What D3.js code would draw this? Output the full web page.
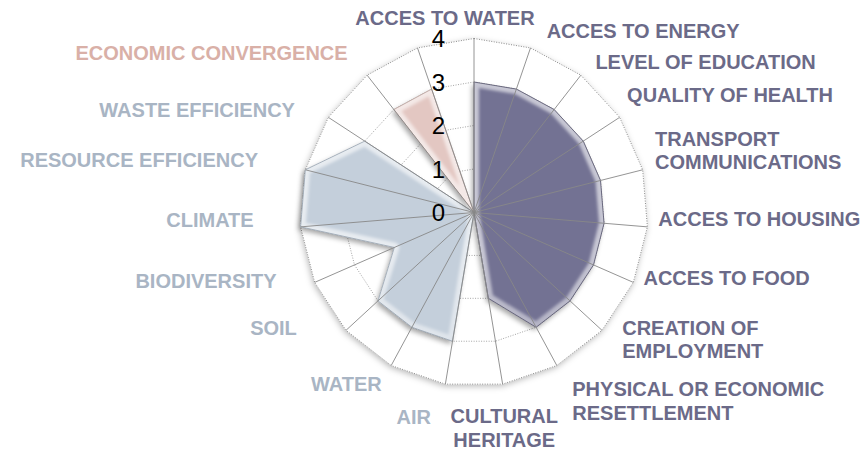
<!DOCTYPE html>
<html><head><meta charset="utf-8">
<script src="https://cdn.jsdelivr.net/npm/d3@7"></script>
<style>html,body{margin:0;padding:0;background:#fff}svg{display:block}</style>
</head><body>
<svg id="chart" width="867" height="451"></svg>
<script>
// ---- data ----
const categories = ["ACCES TO WATER","ACCES TO ENERGY","LEVEL OF EDUCATION","QUALITY OF HEALTH",
  "TRANSPORT\nCOMMUNICATIONS","ACCES TO HOUSING","ACCES TO FOOD","CREATION OF\nEMPLOYMENT",
  "PHYSICAL OR ECONOMIC\nRESETTLEMENT","CULTURAL\nHERITAGE","AIR","WATER","SOIL","BIODIVERSITY",
  "CLIMATE","RESOURCE EFFICIENCY","WASTE EFFICIENCY","ECONOMIC CONVERGENCE",""];
const labelGroup = ["social","social","social","social","social","social","social","social","social","social",
  "environmental","environmental","environmental","environmental","environmental","environmental","environmental",
  "economic","economic"];
const social        = [3,3,3,3,3,3,3,3,3,2,0,0,0,0,0,0,0,0,0];
const environmental = [0,0,0,0,0,0,0,0,0,0,3,3,3,2,4,4,3,0,0];
const economic      = [0,0,0,0,0,0,0,0,0,0,0,0,0,0,0,0,0,3,3];
const tickValues = [0,1,2,3,4];

// ---- layout / style ----
const cx = 474, cy = 212.5, R = 174;
const colors = {
  social:        {fill:"#737293", edge:"#55546c", text:"#6b6a88"},
  environmental: {fill:"#c4cfdb", edge:"#98a3b0", text:"#a9b5c4"},
  economic:      {fill:"#e3c7c2", edge:"#b89f9a", text:"#d9b0a7"}
};
const labelNudge = [[-29,1],[9,4],[1,4],[-11,-11],[-9,-14],[-11,-10],[-10,-13],[4,-6],[5,16],
  [-2,22],[-28,11],[1,-1],[-33,-17],[-18,-10],[-25,-9],[-26,-5],[-15,4],[-6,-5],[0,0]];

const n = categories.length;
const r = d3.scaleLinear().domain([0, 4]).range([0, R]);
const ang = d3.scaleLinear().domain([0, n]).range([0, 2 * Math.PI]);

const svg = d3.select("#chart");
const defs = svg.append("defs");

const fOuter = defs.append("filter").attr("id","outerShadow").attr("x","-20%").attr("y","-20%").attr("width","140%").attr("height","140%");
fOuter.append("feDropShadow").attr("dx",-1).attr("dy",2).attr("stdDeviation",3).attr("flood-color","#000").attr("flood-opacity",0.28);

const fFill = defs.append("filter").attr("id","fillShadow").attr("x","-20%").attr("y","-20%").attr("width","140%").attr("height","140%");
fFill.append("feDropShadow").attr("dx",-2).attr("dy",3).attr("stdDeviation",2.5).attr("flood-color","#000").attr("flood-opacity",0.35);

const fBlur = defs.append("filter").attr("id","bevelBlur");
fBlur.append("feGaussianBlur").attr("stdDeviation",1.6);

const bevelGrad = defs.append("linearGradient").attr("id","bevelGrad")
  .attr("gradientUnits","userSpaceOnUse").attr("x1",0).attr("y1",cy - R).attr("x2",0).attr("y2",cy + R);
bevelGrad.append("stop").attr("offset","0%").attr("stop-color","#fff").attr("stop-opacity",0.6);
bevelGrad.append("stop").attr("offset","50%").attr("stop-color","#fff").attr("stop-opacity",0.3);
bevelGrad.append("stop").attr("offset","100%").attr("stop-color","#000").attr("stop-opacity",0.25);

const g = svg.append("g").attr("transform", `translate(${cx},${cy})`);

const radial = d3.lineRadial()
  .angle((d, i) => ang(i))
  .radius(d => r(d))
  .curve(d3.curveLinearClosed);

// background (white plot area with soft shadow)
g.append("path")
  .attr("d", radial(categories.map(() => 4)))
  .attr("fill", "#fff")
  .attr("filter", "url(#outerShadow)");

// grid polygons (dotted)
tickValues.filter(t => t > 0).forEach(t => {
  g.append("path")
    .attr("d", radial(categories.map(() => t)))
    .attr("fill", "none")
    .attr("stroke", t === 4 ? "#8a8a8a" : "#a5a5a5")
    .attr("stroke-width", 1)
    .attr("stroke-dasharray", "1,1.5");
});

// series fills
const series = [
  {key:"social", values: social},
  {key:"environmental", values: environmental},
  {key:"economic", values: economic}
];
series.forEach((s, si) => {
  const d = radial(s.values);
  const c = colors[s.key];
  defs.append("clipPath").attr("id", "clip" + si).append("path").attr("d", d);
  const sg = g.append("g");
  sg.append("path")
    .attr("d", d)
    .attr("fill", c.fill)
    .attr("filter", "url(#fillShadow)");
  sg.append("path")
    .attr("d", d)
    .attr("fill", "none")
    .attr("stroke", "url(#bevelGrad)")
    .attr("stroke-width", 10)
    .attr("stroke-linejoin", "round")
    .attr("clip-path", `url(#clip${si})`)
    .attr("filter", "url(#bevelBlur)");
  sg.append("path")
    .attr("d", d)
    .attr("fill", "none")
    .attr("stroke", c.edge)
    .attr("stroke-width", 0.8)
    .attr("stroke-linejoin", "round");
});

// spokes (on top of fills)
g.selectAll("line.spoke")
  .data(categories)
  .join("line")
  .attr("class", "spoke")
  .attr("x1", 0).attr("y1", 0)
  .attr("x2", (d, i) => r(4) * Math.sin(ang(i)))
  .attr("y2", (d, i) => -r(4) * Math.cos(ang(i)))
  .attr("stroke", "#888")
  .attr("stroke-width", 0.9);

// category labels
const rl = R + 22, lineH = 23.5;
categories.forEach((cat, i) => {
  if (!cat) return;
  const a = ang(i), s = Math.sin(a), co = Math.cos(a);
  const anchor = Math.abs(s) < 0.2 ? "middle" : (s > 0 ? "start" : "end");
  const ax = rl * s + labelNudge[i][0];
  const ay = -rl * co + labelNudge[i][1];
  const lines = cat.split("\n");
  const t = g.append("text")
    .attr("text-anchor", anchor)
    .attr("font-family", "'Liberation Sans', Arial, Helvetica, sans-serif")
    .attr("font-weight", "bold")
    .attr("font-size", 20)
    .attr("fill", colors[labelGroup[i]].text);
  lines.forEach((ln, k) => {
    t.append("tspan")
      .attr("x", ax)
      .attr("y", ay - (lines.length - 1) * lineH / 2 + k * lineH + 7.2)
      .text(ln);
  });
});

// value axis labels
g.selectAll("text.tick")
  .data(tickValues)
  .join("text")
  .attr("class", "tick")
  .attr("x", -29)
  .attr("y", d => -r(d) + 8.6)
  .attr("text-anchor", "end")
  .attr("font-family", "'Liberation Sans', Arial, Helvetica, sans-serif")
  .attr("font-size", 24)
  .attr("fill", "#000")
  .text(d => d);
</script>
</body></html>
